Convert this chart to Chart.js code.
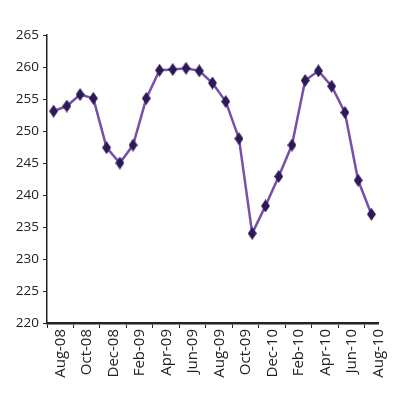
<!DOCTYPE html>
<html>
<head>
<meta charset="utf-8">
<script src="https://cdn.jsdelivr.net/npm/chart.js@4"></script>
<style>
  html, body { margin: 0; padding: 0; background: #fff; }
  #wrap { width: 411px; height: 414px; }
</style>
</head>
<body>
<div id="wrap"><canvas id="chart" width="411" height="414"></canvas></div>
<script>
const months = [
  'Aug-08', 'Sep-08', 'Oct-08', 'Nov-08', 'Dec-08', 'Jan-09', 'Feb-09', 'Mar-09',
  'Apr-09', 'May-09', 'Jun-09', 'Jul-09', 'Aug-09', 'Sep-09', 'Oct-09', 'Nov-09',
  'Dec-10', 'Jan-10', 'Feb-10', 'Mar-10', 'Apr-10', 'May-10', 'Jun-10', 'Jul-10', 'Aug-10'
]
const values = [
  253.1, 253.9, 255.7, 255.1, 247.4, 245.0, 247.8, 255.1,
  259.5, 259.6, 259.8, 259.4, 257.5, 254.6, 248.8, 234.0,
  238.3, 242.9, 247.8, 257.9, 259.4, 257.0, 252.9, 242.3, 237.0
]
const yMin = 220
const yMax = 265
const yStep = 5

// tall diamond marker, narrower than it is high
function diamond(w, h, color) {
  const c = document.createElement('canvas')
  c.width = w
  c.height = h
  const g = c.getContext('2d')
  g.fillStyle = color
  g.beginPath()
  g.moveTo(w / 2, 0)
  g.lineTo(w, h / 2)
  g.lineTo(w / 2, h)
  g.lineTo(0, h / 2)
  g.closePath()
  g.fill()
  return c
}

const axisColor = '#222222'
const family = '"Open Sans", sans-serif'

new Chart(document.getElementById('chart'), {
  type: 'line',
  data: {
    labels: months,
    datasets: [{
      data: values,
      borderColor: '#7a4fa8',
      borderWidth: 2.5,
      tension: 0,
      pointStyle: diamond(9, 13, '#2c1a58'),
      pointRadius: 6
    }]
  },
  options: {
    responsive: false,
    animation: false,
    layout: { padding: { top: 35, right: 33, left: 0, bottom: 0 } },
    plugins: { legend: { display: false }, tooltip: { enabled: false } },
    scales: {
      x: {
        offset: true,
        afterFit: s => { s.height = 91 },
        border: { color: axisColor, width: 2.5 },
        grid: {
          offset: true,
          drawOnChartArea: false,
          tickLength: 5,
          tickColor: ctx => ctx.index % 2 === 0 ? axisColor : 'rgba(0,0,0,0)'
        },
        ticks: {
          autoSkip: false,
          minRotation: 90,
          maxRotation: 90,
          padding: 1,
          labelOffset: 7,
          color: axisColor,
          font: { family, size: 15 },
          callback: (v, i) => i % 2 === 0 ? months[i] : ''
        }
      },
      y: {
        min: yMin,
        max: yMax,
        afterFit: s => { s.width = 47 },
        border: { color: axisColor, width: 1.5 },
        grid: { drawOnChartArea: false, tickLength: 4, tickColor: axisColor },
        ticks: { stepSize: yStep, padding: 4, color: axisColor, font: { family, size: 13.5 } }
      }
    }
  }
})
</script>
</body>
</html>
